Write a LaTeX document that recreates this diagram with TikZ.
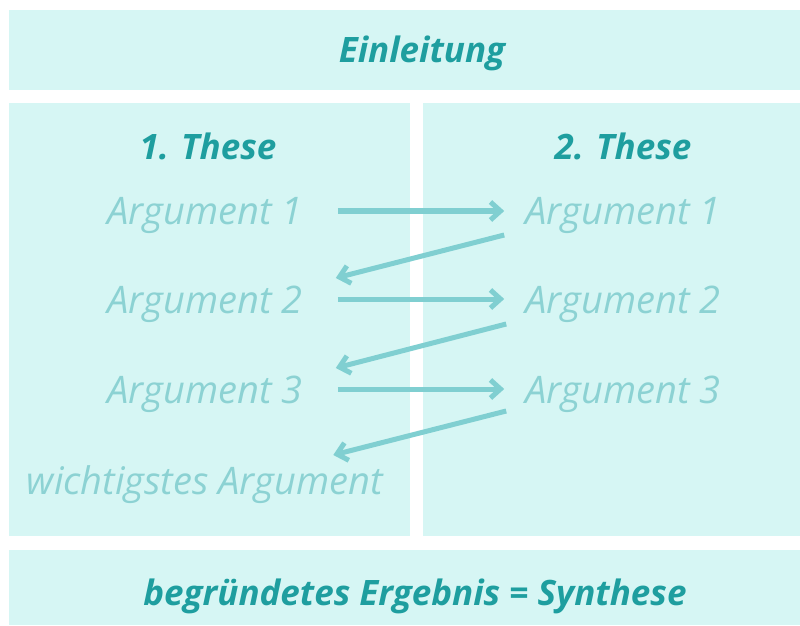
\documentclass[tikz,border=0pt]{standalone}
\usepackage{fontspec}
\setmainfont{Open Sans}
\usepackage{xcolor}
\usetikzlibrary{arrows.meta, positioning, calc}
\definecolor{boxcolor}{HTML}{D6F6F4}
\definecolor{titlecolor}{HTML}{1E9E9F}
\definecolor{argcolor}{HTML}{8CD2D3}
\definecolor{arrcolor}{HTML}{80CFD1}

\begin{document}
\begin{tikzpicture}[
    x=1pt, y=1pt,
    panel/.style={fill=boxcolor, draw=none},
    title/.style={font=\fontsize{35}{40}\selectfont\bfseries\itshape, text=titlecolor, inner sep=0pt},
    arg/.style={font=\fontsize{38}{42}\selectfont\itshape, text=argcolor, inner sep=0pt},
    arr/.style={-{Straight Barb[length=10pt, width=18pt, line width=5pt]}, line width=5pt, arrcolor},
]
    \useasboundingbox (0,0) rectangle (800,625);

    % Panels
    \fill[panel] (9,535) rectangle (800,615);
    \fill[panel] (9,89) rectangle (410,522);
    \fill[panel] (423,89) rectangle (800,522);
    \fill[panel] (9,0) rectangle (800,75);

    % Headings
    \node[title] (intro) at (422,572) {Einleitung};
    \node[title] (thesisA) at (208,479) {1. These};
    \node[title] (thesisB) at (623,479) {2. These};
    \node[title] (result) at (415,29) {begründetes Ergebnis = Synthese};

    % Arguments
    \node[arg] (a1) at (205,409) {Argument 1};
    \node[arg] (a2) at (205,321) {Argument 2};
    \node[arg] (a3) at (205,231) {Argument 3};
    \node[arg] (a4) at (205,140) {wichtigstes Argument};
    \node[arg] (b1) at (623,409) {Argument 1};
    \node[arg] (b2) at (623,321) {Argument 2};
    \node[arg] (b3) at (623,231) {Argument 3};

    % Arrows
    \draw[arr] ([shift={(35,5)}]a1.east) -- ([shift={(-21,5)}]b1.west);
    \draw[arr] ([shift={(35,5)}]a2.east) -- ([shift={(-21,5)}]b2.west);
    \draw[arr] ([shift={(35,5)}]a3.east) -- ([shift={(-21,5)}]b3.west);
    \draw[arr] ([shift={(-21,-19)}]b1.west) -- ([shift={(33,26)}]a2.east);
    \draw[arr] ([shift={(-19,-20)}]b2.west) -- ([shift={(33,26)}]a3.east);
    \draw[arr] ([shift={(-19,-17)}]b3.west) -- ([shift={(-50,30)}]a4.east);
\end{tikzpicture}
\end{document}
